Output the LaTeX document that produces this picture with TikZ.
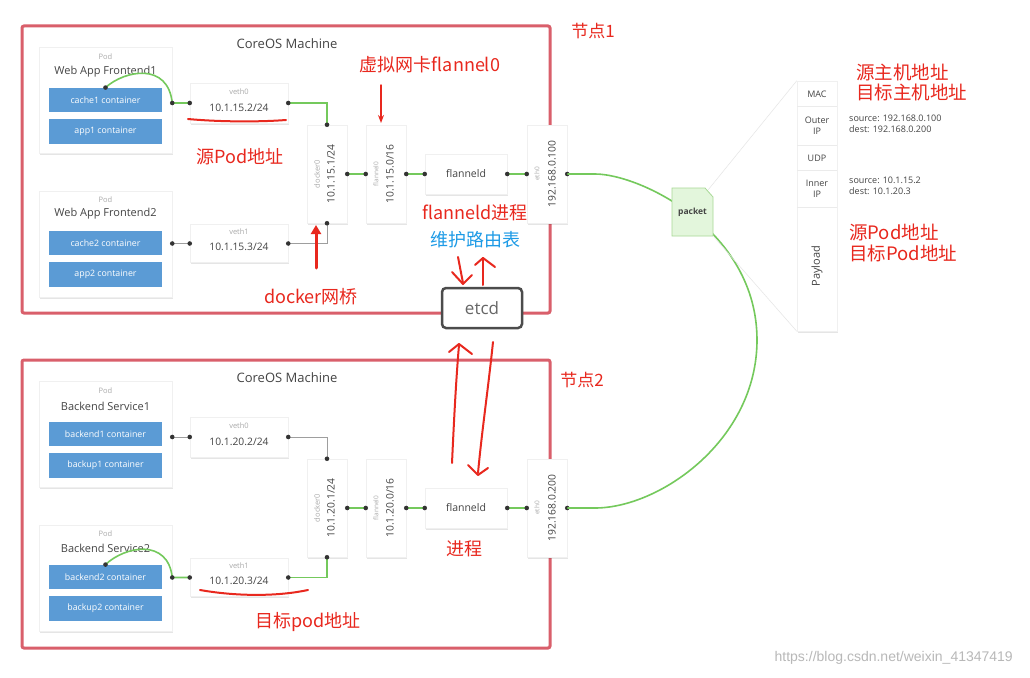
\documentclass[tikz,border=0pt]{standalone}
\usepackage{fontspec}
\setmainfont{Open Sans}
\newfontfamily\cjk{Noto Sans CJK SC}
\newfontfamily\wmfont{Liberation Sans}
\usetikzlibrary{shadows,arrows.meta,calc}
\definecolor{framec}{HTML}{D95F6B}
\definecolor{ctrblue}{HTML}{5B9BD5}
\definecolor{wiregreen}{HTML}{74C95C}
\definecolor{wiregrey}{HTML}{9E9E9E}
\definecolor{dotc}{HTML}{333333}
\definecolor{annred}{HTML}{E8281E}
\definecolor{annblue}{HTML}{1E9BE6}
\definecolor{txtc}{HTML}{444444}
\definecolor{lblc}{HTML}{AAAAAA}
\definecolor{pktfill}{HTML}{E3F6DC}
\definecolor{pktdraw}{HTML}{A8D996}
\newcommand{\portdot}[1]{\fill[dotc] (#1) circle (2.3pt);}
\tikzset{
  machine/.style={draw=framec, line width=3pt, rounded corners=2pt},
  card/.style={fill=white, draw=black!6, line width=0.5pt, inner sep=0pt, drop shadow={fill=black, opacity=0.10, shadow xshift=0.6pt, shadow yshift=-1.6pt}},
  podbox/.style={card, minimum width=133pt, minimum height=106pt},
  ctr/.style={fill=ctrblue, text=white, inner sep=0pt, minimum width=113pt, minimum height=24.5pt, font=\fontsize{8.8}{10}\selectfont},
  vethbox/.style={card, minimum width=98pt, minimum height=39pt},
  vbox/.style={card, minimum width=40pt, minimum height=98pt},
  fdbox/.style={card, minimum width=82pt, minimum height=40pt, text=txtc, font=\fontsize{10.5}{12}\selectfont},
  lblsmall/.style={text=lblc, inner sep=0pt, font=\fontsize{7.5}{9}\selectfont},
  iptext/.style={text=txtc, inner sep=0pt, font=\fontsize{10.3}{12}\selectfont},
  podtitle/.style={text=txtc, inner sep=0pt, font=\fontsize{11}{13}\selectfont},
  machtitle/.style={text=txtc, inner sep=0pt, font=\fontsize{13}{15}\selectfont},
  gw/.style={draw=wiregreen, line width=1.6pt},
  yw/.style={draw=wiregrey, line width=1pt},
  ann/.style={text=annred, inner sep=0pt, font=\cjk\fontsize{18}{20}\selectfont},
  annline/.style={draw=annred, line width=2pt, line cap=round, line join=round},
  pantext/.style={text=txtc, inner sep=0pt, align=center, font=\fontsize{9}{11}\selectfont},
}
\begin{document}
\begin{tikzpicture}[x=1pt,y=-1pt]
\useasboundingbox (0,0) rectangle (1030,677);
\fill[white] (0,0) rectangle (1030,677);

% ---------- machine frames ----------
\draw[machine] (22,26) rectangle (550,313);
\draw[machine] (22,360) rectangle (550,648);

% ================= NODE 1 =================
\node[machtitle] (cm1) at (287,44) {CoreOS Machine};
\node[podbox] (pa1) at (105.5,100.5) {};
\node[lblsmall] (pa1l) at (105.5,57) {Pod};
\node[podtitle] (pa1t) at (105.5,72) {Web App Frontend1};
\node[ctr] (ca1) at (105.5,100) {cache1 container};
\node[ctr] (ca2) at (105.5,131.5) {app1 container};

\node[podbox] (pb1) at (105.5,244) {};
\node[lblsmall] (pb1l) at (105.5,200) {Pod};
\node[podtitle] (pb1t) at (105.5,214) {Web App Frontend2};
\node[ctr] (cb1) at (105.5,243) {cache2 container};
\node[ctr] (cb2) at (105.5,274.5) {app2 container};

\node[vethbox, minimum height=40pt] (va1) at (239,103) {};
\node[lblsmall] (va1l) at (239,92) {veth0};
\node[iptext] (va1i) at (239,108) {10.1.15.2/24};
\node[vethbox, minimum height=38pt] (vb1) at (239,243.5) {};
\node[lblsmall] (vb1l) at (239,232) {veth1};
\node[iptext] (vb1i) at (239,247) {10.1.15.3/24};

\node[vbox] (d1) at (327,174) {};
\node[lblsmall, rotate=90] (d1l) at (317,174) {docker0};
\node[iptext, rotate=90] (d1i) at (331,174) {10.1.15.1/24};
\node[vbox] (f1) at (386,174) {};
\node[lblsmall, rotate=90, font=\fontsize{6.5}{8}\selectfont] (f1l) at (376,174) {flannel0};
\node[iptext, rotate=90] (f1i) at (390,174) {10.1.15.0/16};
\node[fdbox] (fd1) at (466,174) {flanneld};
\node[vbox] (e1) at (547,174) {};
\node[lblsmall, rotate=90, font=\fontsize{6.5}{8}\selectfont] (e1l) at (537,174) {eth0};
\node[iptext, rotate=90] (e1i) at (552,174) {192.168.0.100};

% wires node 1
\draw[gw] (ca1.north) .. controls (125,70) and (168,62) .. (pa1.east |- va1.west) -- (va1.west);
\draw[gw] (va1.east) -- (d1.north |- va1.east) -- (d1.north);
\draw[yw] (pb1.east |- vb1.west) -- (vb1.west);
\draw[yw] (vb1.east) -- (d1.south |- vb1.east) -- (d1.south);
\draw[gw] (d1.east) -- (f1.west);
\draw[gw] (f1.east) -- (fd1.west);
\draw[gw] (fd1.east) -- (e1.west);
\foreach \p in {ca1.north, va1.west, va1.east, d1.north, d1.south, vb1.west, vb1.east, d1.east, f1.west, f1.east, fd1.west, fd1.east, e1.west, e1.east}{\portdot{\p}}
\portdot{pa1.east |- va1.west}
\portdot{pb1.east |- vb1.west}

% ================= NODE 2 =================
\node[machtitle] (cm2) at (287,378) {CoreOS Machine};
\node[podbox] (pa2) at (105.5,434.5) {};
\node[lblsmall] (pa2l) at (105.5,391) {Pod};
\node[podtitle] (pa2t) at (105.5,406) {Backend Service1};
\node[ctr] (ca3) at (105.5,434) {backend1 container};
\node[ctr] (ca4) at (105.5,465.5) {backup1 container};

\node[podbox] (pb2) at (105.5,578) {};
\node[lblsmall] (pb2l) at (105.5,534) {Pod};
\node[podtitle] (pb2t) at (105.5,548) {Backend Service2};
\node[ctr] (cb3) at (105.5,577) {backend2 container};
\node[ctr] (cb4) at (105.5,608.5) {backup2 container};

\node[vethbox, minimum height=40pt] (va2) at (239,437) {};
\node[lblsmall] (va2l) at (239,426) {veth0};
\node[iptext] (va2i) at (239,442) {10.1.20.2/24};
\node[vethbox, minimum height=38pt] (vb2) at (239,577.5) {};
\node[lblsmall] (vb2l) at (239,566) {veth1};
\node[iptext] (vb2i) at (239,581) {10.1.20.3/24};

\node[vbox] (d2) at (327,508) {};
\node[lblsmall, rotate=90] (d2l) at (317,508) {docker0};
\node[iptext, rotate=90] (d2i) at (331,508) {10.1.20.1/24};
\node[vbox] (f2) at (386,508) {};
\node[lblsmall, rotate=90, font=\fontsize{6.5}{8}\selectfont] (f2l) at (376,508) {flannel0};
\node[iptext, rotate=90] (f2i) at (390,508) {10.1.20.0/16};
\node[fdbox] (fd2) at (466,508) {flanneld};
\node[vbox] (e2) at (547,508) {};
\node[lblsmall, rotate=90, font=\fontsize{6.5}{8}\selectfont] (e2l) at (537,508) {eth0};
\node[iptext, rotate=90] (e2i) at (552,508) {192.168.0.200};

% wires node 2
\draw[yw] (pa2.east |- va2.west) -- (va2.west);
\draw[yw] (va2.east) -- (d2.north |- va2.east) -- (d2.north);
\draw[gw] (cb3.north) .. controls (125,546) and (168,538) .. (pb2.east |- vb2.west) -- (vb2.west);
\draw[gw] (vb2.east) -- (d2.south |- vb2.east) -- (d2.south);
\draw[gw] (d2.east) -- (f2.west);
\draw[gw] (f2.east) -- (fd2.west);
\draw[gw] (fd2.east) -- (e2.west);
\foreach \p in {cb3.north, va2.west, va2.east, d2.north, d2.south, vb2.west, vb2.east, d2.east, f2.west, f2.east, fd2.west, fd2.east, e2.west, e2.east}{\portdot{\p}}
\portdot{pa2.east |- va2.west}
\portdot{pb2.east |- vb2.west}

% ---------- link between hosts ----------
\draw[gw] (e1.east) -- (595,174) .. controls (640,174) and (757,230) .. (757,340)
          .. controls (757,440) and (660,508) .. (595,508) -- (e2.east);

% ---------- packet ----------
\filldraw[fill=pktfill, draw=pktdraw, line width=0.8pt] (672,188) -- (705,188) -- (713,197) -- (713,236) -- (672,236) -- cycle;
\node[text=txtc, font=\bfseries\fontsize{8.5}{10}\selectfont] (pkt) at (692.5,212) {packet};
\coordinate (pkttr) at (708,190);
\coordinate (pktbr) at (714,237);

% ---------- packet panel ----------
\node[card, minimum width=40pt, minimum height=250pt] (panel) at (817,206) {};
\draw[black!10, line width=0.5pt] (pkttr) -- (panel.north west);
\draw[black!10, line width=0.5pt] (pktbr) -- (panel.south west);
\foreach \yy in {106,145,170,207}{\draw[black!8, line width=0.8pt] (797,\yy) -- (837,\yy);}
\node[pantext] (pmac) at (817,94) {MAC};
\node[pantext] (pout) at (817,125.5) {Outer\\IP};
\node[pantext] (pudp) at (817,158) {UDP};
\node[pantext] (pin) at (817,188.5) {Inner\\IP};
\node[pantext, rotate=90, font=\fontsize{11}{13}\selectfont] (ppay) at (817,266) {Payload};
\node[pantext, align=left, anchor=west] (psrc1) at (849,124) {source: 192.168.0.100\\dest: 192.168.0.200};
\node[pantext, align=left, anchor=west] (psrc2) at (849,186) {source: 10.1.15.2\\dest: 10.1.20.3};

% ---------- etcd ----------
\node[draw=black!70, line width=2.5pt, rounded corners=4pt, fill=white, minimum width=80pt, minimum height=40pt, text=black!60, font=\fontsize{17}{19}\selectfont] (etcd) at (482,308) {etcd};

% ---------- annotations ----------
\node[ann, font=\cjk\fontsize{17}{19}\selectfont] (n1) at (593,31) {节点1};
\node[ann, font=\cjk\fontsize{17}{19}\selectfont] (n2) at (582,380) {节点2};
\node[ann] (a1) at (430,65) {虚拟网卡flannel0};
\node[ann] (a2) at (240,157) {源Pod地址};
\node[ann] (a3) at (311,297) {docker网桥};
\node[ann] (a4) at (475,213) {flanneld进程};
\node[ann, text=annblue] (a5) at (475,240) {维护路由表};
\node[ann] (a6) at (464,549) {进程};
\node[ann] (a7) at (308,622) {目标pod地址};
\node[ann, anchor=west, font=\cjk\fontsize{18.5}{20}\selectfont] (a8) at (856,72) {源主机地址};
\node[ann, anchor=west, font=\cjk\fontsize{18.5}{20}\selectfont] (a9) at (856,92) {目标主机地址};
\node[ann, anchor=west, font=\cjk\fontsize{18.5}{20}\selectfont] (a10) at (849,232) {源Pod地址};
\node[ann, anchor=west, font=\cjk\fontsize{18.5}{20}\selectfont] (a11) at (849,253) {目标Pod地址};

% underlines
\draw[annline] (188,119) .. controls (220,122) and (260,122) .. (286,120);
\draw[annline] (200,590) .. controls (240,597) and (280,596) .. (308,590);

% arrows
\draw[annline, line width=1.5pt, -{Stealth[length=8pt,width=6pt]}] (381,85) -- (381,123);
\draw[annline, line width=3pt, -{Triangle[length=9pt,width=10pt]}] (316,268) -- (316,225);
% small hand-drawn arrows near etcd
\draw[annline] (458,257) -- (463,283);
\draw[annline] (452,272) -- (463,284) -- (472,275);
\draw[annline] (483,285) -- (483,258);
\draw[annline] (475,265) -- (483,258) -- (495,267);
% long hand-drawn arrows to node 2
\draw[annline] (452,463) .. controls (454,420) and (456,380) .. (459,345);
\draw[annline] (449,352) -- (459,344) -- (472,354);
\draw[annline] (493,342) .. controls (488,390) and (482,430) .. (478,473);
\draw[annline] (468,465) -- (478,475) -- (488,468);

% watermark
\node[text=black!28, inner sep=0pt, anchor=east, font=\wmfont\fontsize{14}{16}\selectfont] (wm) at (1013,658) {https://blog.csdn.net/weixin\_41347419};
\end{tikzpicture}
\end{document}
